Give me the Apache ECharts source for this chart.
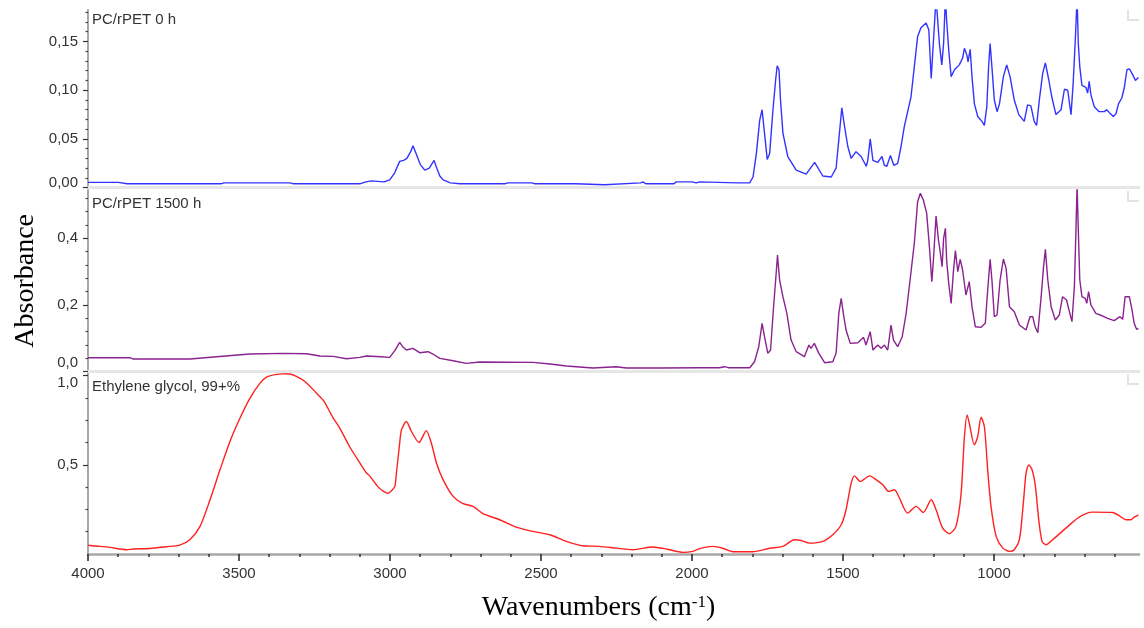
<!DOCTYPE html>
<html>
<head>
<meta charset="utf-8">
<title>FTIR spectra</title>
<script src="https://cdn.jsdelivr.net/npm/echarts@6/dist/echarts.min.js"></script>
<style>
  html, body { margin: 0; padding: 0; background: #fff; }
  #chart { width: 1144px; height: 628px; }
</style>
</head>
<body>
<div id="chart"></div>
<script>
// [wavenumber cm-1, absorbance]
var pc0h = [
  [4000,0.0055],[3900,0.0055],[3870,0.004],[3780,0.004],[3700,0.004],[3560,0.004],[3550,0.005],
  [3330,0.005],[3320,0.004],[3100,0.004],[3080,0.006],[3061,0.007],[3020,0.006],[3001,0.008],
  [2985,0.015],[2968,0.027],[2955,0.028],[2944,0.030],[2930,0.038],[2924,0.043],[2915,0.036],
  [2900,0.024],[2885,0.018],[2870,0.020],[2854,0.028],[2845,0.020],[2835,0.012],[2824,0.008],
  [2800,0.005],[2769,0.004],[2620,0.004],[2610,0.005],[2530,0.005],[2520,0.004],[2385,0.004],
  [2380,0.003],[2290,0.003],[2285,0.005],[2170,0.005],[2163,0.006],[2152,0.004],[2060,0.004],
  [2052,0.006],[2000,0.006],[1986,0.005],[1975,0.006],[1850,0.005],[1809,0.005],[1798,0.011],
  [1787,0.035],[1776,0.069],[1768,0.080],[1760,0.056],[1751,0.029],[1743,0.035],[1732,0.080],
  [1723,0.111],[1718,0.125],[1712,0.121],[1707,0.090],[1699,0.056],[1683,0.032],[1655,0.018],
  [1622,0.014],[1594,0.026],[1567,0.012],[1539,0.011],[1523,0.020],[1514,0.049],[1504,0.082],
  [1495,0.063],[1484,0.042],[1473,0.030],[1457,0.037],[1440,0.032],[1423,0.022],[1418,0.028],
  [1410,0.050],[1401,0.028],[1385,0.026],[1371,0.032],[1363,0.023],[1355,0.022],[1343,0.033],
  [1332,0.023],[1319,0.025],[1308,0.042],[1297,0.063],[1286,0.078],[1275,0.093],[1264,0.124],
  [1253,0.155],[1242,0.164],[1225,0.169],[1216,0.162],[1208,0.112],[1203,0.138],[1192,0.195],
  [1186,0.195],[1181,0.148],[1173,0.126],[1167,0.148],[1161,0.195],[1157,0.172],[1150,0.141],
  [1142,0.114],[1131,0.121],[1115,0.126],[1104,0.133],[1098,0.143],[1090,0.136],[1086,0.129],
  [1079,0.142],[1073,0.114],[1065,0.086],[1054,0.073],[1040,0.068],[1032,0.064],[1024,0.083],
  [1018,0.124],[1013,0.148],[1007,0.124],[999,0.090],[990,0.078],[982,0.086],[969,0.114],
  [958,0.126],[947,0.114],[933,0.090],[918,0.075],[900,0.068],[889,0.085],[878,0.084],
  [867,0.068],[859,0.064],[850,0.090],[839,0.117],[830,0.128],[819,0.111],[808,0.092],
  [795,0.075],[778,0.080],[767,0.101],[756,0.100],[745,0.075],[738,0.107],[731,0.151],
  [725,0.195],[721,0.148],[716,0.124],[709,0.105],[696,0.103],[690,0.097],[685,0.109],
  [679,0.095],[668,0.083],[652,0.078],[635,0.078],[627,0.080],[618,0.077],[605,0.073],
  [596,0.076],[588,0.086],[577,0.092],[569,0.102],[560,0.121],[552,0.122],[541,0.116],
  [532,0.110],[522,0.113]
];

var pc1500h = [
  [4000,0.042],[3861,0.042],[3850,0.038],[3662,0.038],[3574,0.045],[3464,0.053],[3354,0.055],
  [3276,0.054],[3232,0.047],[3188,0.046],[3144,0.039],[3100,0.043],[3078,0.047],[3030,0.045],
  [3001,0.043],[2984,0.063],[2968,0.088],[2958,0.075],[2946,0.065],[2924,0.070],[2902,0.057],
  [2874,0.060],[2858,0.053],[2835,0.040],[2791,0.033],[2747,0.025],[2703,0.029],[2526,0.028],
  [2470,0.023],[2416,0.017],[2328,0.011],[2251,0.015],[2218,0.011],[2100,0.011],[1975,0.012],
  [1909,0.012],[1892,0.015],[1880,0.012],[1809,0.012],[1793,0.030],[1779,0.075],[1768,0.145],
  [1760,0.105],[1749,0.055],[1740,0.065],[1730,0.195],[1723,0.275],[1717,0.350],[1710,0.275],
  [1699,0.225],[1686,0.175],[1672,0.095],[1655,0.060],[1628,0.045],[1613,0.080],[1606,0.070],
  [1595,0.085],[1580,0.055],[1561,0.027],[1534,0.030],[1523,0.055],[1514,0.175],[1506,0.220],
  [1499,0.175],[1490,0.125],[1476,0.085],[1451,0.087],[1432,0.103],[1424,0.080],[1410,0.120],
  [1401,0.065],[1385,0.080],[1374,0.070],[1363,0.080],[1352,0.065],[1341,0.140],[1333,0.095],
  [1319,0.075],[1304,0.105],[1291,0.175],[1278,0.275],[1264,0.385],[1253,0.510],[1244,0.535],
  [1234,0.515],[1223,0.475],[1214,0.375],[1206,0.270],[1200,0.345],[1192,0.467],[1184,0.395],
  [1179,0.365],[1172,0.315],[1167,0.400],[1161,0.430],[1157,0.335],[1150,0.265],[1142,0.205],
  [1135,0.295],[1128,0.363],[1120,0.300],[1112,0.337],[1104,0.305],[1093,0.230],[1082,0.270],
  [1073,0.195],[1062,0.135],[1043,0.133],[1029,0.145],[1021,0.245],[1013,0.337],[1007,0.275],
  [999,0.165],[990,0.170],[980,0.275],[969,0.338],[960,0.310],[949,0.195],[933,0.180],
  [916,0.140],[894,0.125],[881,0.165],[872,0.165],[864,0.135],[855,0.117],[844,0.225],
  [836,0.315],[830,0.367],[822,0.275],[811,0.195],[797,0.155],[784,0.170],[773,0.225],
  [760,0.215],[749,0.175],[742,0.150],[734,0.255],[729,0.415],[725,0.560],[721,0.425],
  [716,0.275],[709,0.225],[698,0.220],[693,0.205],[687,0.240],[679,0.200],[663,0.175],
  [640,0.167],[624,0.160],[602,0.153],[583,0.165],[574,0.157],[566,0.225],[552,0.225],
  [543,0.185],[536,0.145],[528,0.127],[522,0.130]
];

var glycol = [
  [4000,0.050],[3993,0.048],[3960,0.043],[3927,0.037],[3872,0.024],[3850,0.028],[3795,0.031],
  [3740,0.041],[3696,0.050],[3663,0.080],[3629,0.155],[3596,0.304],[3563,0.472],[3530,0.631],
  [3497,0.761],[3464,0.873],[3431,0.957],[3409,0.992],[3380,1.006],[3354,1.010],[3332,1.009],
  [3310,0.996],[3280,0.965],[3243,0.901],[3220,0.860],[3188,0.762],[3166,0.705],[3133,0.600],
  [3100,0.511],[3078,0.455],[3067,0.437],[3039,0.375],[3020,0.350],[3006,0.341],[2995,0.355],
  [2984,0.379],[2979,0.450],[2968,0.621],[2962,0.696],[2946,0.743],[2929,0.687],[2904,0.625],
  [2880,0.692],[2863,0.621],[2846,0.509],[2824,0.416],[2791,0.323],[2758,0.282],[2725,0.267],
  [2692,0.226],[2637,0.192],[2582,0.151],[2527,0.127],[2471,0.108],[2416,0.071],[2361,0.046],
  [2306,0.043],[2251,0.033],[2196,0.024],[2130,0.039],[2085,0.028],[2030,0.009],[1997,0.015],
  [1975,0.030],[1931,0.043],[1898,0.032],[1865,0.013],[1799,0.013],[1743,0.032],[1699,0.043],
  [1661,0.080],[1639,0.076],[1611,0.061],[1567,0.071],[1534,0.108],[1506,0.164],[1490,0.248],
  [1473,0.397],[1462,0.438],[1443,0.407],[1412,0.438],[1390,0.416],[1368,0.388],[1349,0.351],
  [1330,0.360],[1313,0.313],[1286,0.229],[1258,0.267],[1234,0.233],[1208,0.304],[1192,0.248],
  [1170,0.145],[1148,0.114],[1126,0.155],[1109,0.341],[1098,0.659],[1089,0.780],[1082,0.733],
  [1065,0.612],[1054,0.659],[1043,0.767],[1032,0.715],[1021,0.472],[1010,0.267],[993,0.099],
  [971,0.033],[949,0.015],[933,0.024],[916,0.080],[903,0.285],[894,0.453],[885,0.500],
  [874,0.472],[863,0.379],[852,0.192],[841,0.071],[828,0.052],[806,0.080],[762,0.145],
  [718,0.207],[674,0.235],[607,0.233],[585,0.214],[563,0.192],[547,0.192],[536,0.207],
  [522,0.220]
];

// tick positions
var wnTicks = [4000, 3500, 3000, 2500, 2000, 1500, 1000];
var wnMinor = [3900,3800,3700,3600,3400,3300,3200,3100,2900,2800,2700,2600,2400,2300,2200,2100,
               1900,1800,1700,1600,1400,1300,1200,1100,900,800,700,600];
var ticks0h = [0, 0.05, 0.10, 0.15];
var minor0h = [0.01,0.02,0.03,0.04,0.06,0.07,0.08,0.09,0.11,0.12,0.13,0.14,0.16,0.17,0.18];
var ticks1500h = [0, 0.2, 0.4];
var minor1500h = [0.04,0.08,0.12,0.16,0.24,0.28,0.32,0.36,0.44,0.48,0.52];
var ticksGlycol = [0.5, 1.0];
var minorGlycol = [0.125,0.25,0.375,0.625,0.75,0.875];

var WN_MIN = 520, WN_MAX = 4000;
var SANS = 'Liberation Sans';
var SERIF = 'Liberation Serif';
var AXIS_GREY = '#a8a8a8';

var chart = echarts.init(document.getElementById('chart'));

function labelFmt(digits, edgeValue) {
  return function (v) {
    var s = v.toFixed(digits).replace('.', ',');
    return v === edgeValue ? '{edge|' + s + '}' : s;
  };
}

function mainY(grid, min, max, ticks, digits, edgeValue, edgePad) {
  return {
    gridIndex: grid, type: 'value', position: 'left', min: min, max: max,
    axisLine: { show: true, onZero: false, lineStyle: { color: AXIS_GREY, width: 2 } },
    axisTick: { show: true, customValues: ticks, length: 5, lineStyle: { color: '#333', width: 1.2 } },
    axisLabel: {
      customValues: ticks, margin: 10, fontSize: 15, fontFamily: SANS, color: '#333',
      formatter: labelFmt(digits, edgeValue),
      rich: { edge: { fontSize: 15, fontFamily: SANS, color: '#333', padding: edgePad } }
    },
    splitLine: { show: false }
  };
}

function minorY(grid, min, max, ticks) {
  return {
    gridIndex: grid, type: 'value', position: 'left', min: min, max: max,
    axisLine: { show: false },
    axisTick: { show: true, customValues: ticks, length: 2.5, lineStyle: { color: '#444', width: 1.2 } },
    axisLabel: { show: false },
    splitLine: { show: false }
  };
}

function sepX(grid) {
  return {
    gridIndex: grid, type: 'value', position: 'bottom', min: WN_MIN, max: WN_MAX, inverse: true,
    axisLine: { show: true, onZero: false, lineStyle: { color: '#e6e6e6', width: 3 } },
    axisTick: { show: false }, axisLabel: { show: false }, splitLine: { show: false }
  };
}

function corner(y) {
  return {
    type: 'polyline', silent: true,
    shape: { points: [[1128, y], [1128, y + 10], [1139, y + 10]] },
    style: { stroke: '#e2e2e2', lineWidth: 2, fill: null }
  };
}

var titleStyle = { fontSize: 15, fontWeight: 'normal', fontFamily: SANS, color: '#333' };

var option = {
  animation: false,
  backgroundColor: '#fff',
  title: [
    { text: 'PC/rPET 0 h', left: 92, top: 12, padding: 0, textStyle: titleStyle },
    { text: 'PC/rPET 1500 h', left: 92, top: 196, padding: 0, textStyle: titleStyle },
    { text: 'Ethylene glycol, 99+%', left: 92, top: 379, padding: 0, textStyle: titleStyle }
  ],
  grid: [
    { left: 88, right: 5, top: 10, height: 177.7 },
    { left: 88, right: 5, top: 190, height: 181.7 },
    { left: 88, right: 5, top: 373, height: 181 }
  ],
  xAxis: [
    sepX(0),
    sepX(1),
    {
      gridIndex: 2, type: 'value', position: 'bottom', min: WN_MIN, max: WN_MAX, inverse: true,
      axisLine: { show: true, onZero: false, lineStyle: { color: AXIS_GREY, width: 2.5 } },
      axisTick: { show: true, customValues: wnTicks, length: 7, lineStyle: { color: '#222', width: 1.5 } },
      axisLabel: {
        customValues: wnTicks, margin: 12, fontSize: 15, fontFamily: SANS, color: '#333',
        formatter: function (v) { return String(v); }
      },
      splitLine: { show: false },
      name: '{a|Wavenumbers (cm}{s|-1}{a|)}',
      nameLocation: 'middle',
      nameGap: 40,
      nameTextStyle: {
        color: '#000', fontFamily: SERIF, fontSize: 28, padding: [0, 30, 0, 0],
        rich: {
          a: { color: '#000', fontFamily: SERIF, fontSize: 28 },
          s: { color: '#000', fontFamily: SERIF, fontSize: 17, verticalAlign: 'top' }
        }
      }
    },
    {
      gridIndex: 2, type: 'value', position: 'bottom', min: WN_MIN, max: WN_MAX, inverse: true,
      axisLine: { show: false },
      axisTick: { show: true, customValues: wnMinor, length: 3, lineStyle: { color: '#333', width: 1.5 } },
      axisLabel: { show: false },
      splitLine: { show: false }
    }
  ],
  yAxis: [
    mainY(0, 0, 0.1823, ticks0h, 2, 0, [0, 0, 10, 0]),
    minorY(0, 0, 0.1823, minor0h),
    Object.assign(mainY(1, 0, 0.545, ticks1500h, 1, 0, [0, 0, 18, 0]), {
      name: 'Absorbance',
      nameLocation: 'middle',
      nameRotate: 90,
      nameGap: 48,
      nameTextStyle: { color: '#000', fontFamily: SERIF, fontSize: 28 }
    }),
    minorY(1, 0, 0.545, minor1500h),
    mainY(2, 0, 1.015, ticksGlycol, 1, 1, [14, 0, 0, 0]),
    minorY(2, 0, 1.015, minorGlycol)
  ],
  series: [
    {
      name: 'PC/rPET 0 h', type: 'line', xAxisIndex: 0, yAxisIndex: 0, data: pc0h,
      showSymbol: false, clip: true, lineStyle: { color: '#3333ff', width: 1.4 }
    },
    {
      name: 'PC/rPET 1500 h', type: 'line', xAxisIndex: 1, yAxisIndex: 2, data: pc1500h,
      showSymbol: false, clip: true, lineStyle: { color: '#8a2290', width: 1.4 }
    },
    {
      name: 'Ethylene glycol, 99+%', type: 'line', xAxisIndex: 2, yAxisIndex: 4, data: glycol,
      showSymbol: false, clip: true, smooth: 0.25,
      lineStyle: { color: '#ff2020', width: 1.4 }
    }
  ],
  graphic: [corner(10), corner(191), corner(374)]
};

chart.setOption(option);
</script>
</body>
</html>
